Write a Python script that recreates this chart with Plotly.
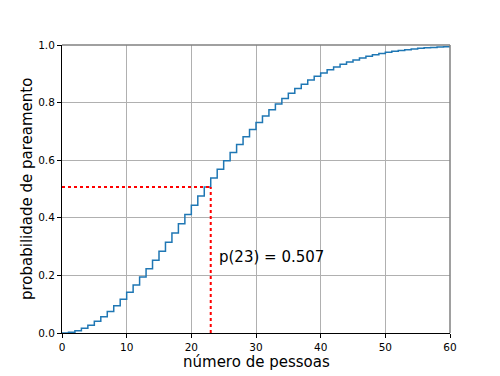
import plotly.graph_objects as go

n_people = list(range(0, 61))
prob = [0.0, 0.0, 0.0027, 0.0082, 0.0164, 0.0271, 0.0405, 0.0562, 0.0743, 0.0946,
        0.1169, 0.1411, 0.1670, 0.1944, 0.2231, 0.2529, 0.2836, 0.3150, 0.3469, 0.3791,
        0.4114, 0.4437, 0.4757, 0.5073, 0.5383, 0.5687, 0.5982, 0.6269, 0.6545, 0.6810,
        0.7063, 0.7305, 0.7533, 0.7750, 0.7953, 0.8144, 0.8322, 0.8487, 0.8641, 0.8782,
        0.8912, 0.9032, 0.9140, 0.9239, 0.9329, 0.9410, 0.9483, 0.9548, 0.9606, 0.9658,
        0.9704, 0.9744, 0.9780, 0.9811, 0.9839, 0.9863, 0.9883, 0.9901, 0.9917, 0.9930,
        0.9941]
mark_n = 23
mark_p = 0.507
x_ticks = [0, 10, 20, 30, 40, 50, 60]
y_ticks = [0.0, 0.2, 0.4, 0.6, 0.8, 1.0]
y_tick_labels = ["0.0", "0.2", "0.4", "0.6", "0.8", "1.0"]
x_title = "número de pessoas"
y_title = "probabilidade de pareamento"

fig = go.Figure()
fig.add_trace(go.Scatter(x=n_people, y=prob, mode="lines", line_shape="vh",
                         line=dict(color="#1f77b4", width=1.5), showlegend=False))
fig.add_trace(go.Scatter(x=[0, mark_n], y=[mark_p, mark_p], mode="lines",
                         line=dict(color="red", width=2, dash="dot"), showlegend=False))
fig.add_trace(go.Scatter(x=[mark_n, mark_n], y=[0, mark_p], mode="lines",
                         line=dict(color="red", width=2, dash="dot"), showlegend=False))
fig.add_annotation(x=24, y=0.264, xref="x", yref="y", text="p(23) = 0.507",
                   showarrow=False, xanchor="left", yanchor="middle",
                   font=dict(size=15, color="black"))

# axis titles as annotations for precise placement
fig.add_annotation(x=0.5, y=-0.1007, xref="paper", yref="paper", text=x_title,
                   showarrow=False, xanchor="center", yanchor="middle",
                   font=dict(size=15, color="black"))
fig.add_annotation(x=-0.0902, y=0.5, xref="paper", yref="paper", text=y_title,
                   showarrow=False, xanchor="center", yanchor="middle", textangle=-90,
                   font=dict(size=15, color="black"))

axis_common = dict(showgrid=True, gridcolor="#b0b0b0", gridwidth=1,
                   ticks="outside", ticklen=4, tickcolor="black",
                   showline=True, linecolor="black", linewidth=1,
                   mirror=False, zeroline=False, automargin=False,
                   tickfont=dict(size=10.5, color="black"))

fig.update_xaxes(range=[0, 60], tickvals=x_ticks, **axis_common)
fig.update_yaxes(range=[0, 1], tickvals=y_ticks, ticktext=y_tick_labels, **axis_common)

# gray top/right frame lines
fig.add_shape(type="line", xref="paper", yref="paper", x0=0, x1=1, y0=1, y1=1,
              line=dict(color="#808080", width=1.5))
fig.add_shape(type="line", xref="paper", yref="paper", x0=1, x1=1, y0=0, y1=1,
              line=dict(color="#808080", width=1.5))

fig.update_layout(width=500, height=376, margin=dict(l=62, r=50, t=45, b=43),
                  plot_bgcolor="white", paper_bgcolor="white",
                  font=dict(family="DejaVu Sans", color="black"))
fig.write_html("out.html")
